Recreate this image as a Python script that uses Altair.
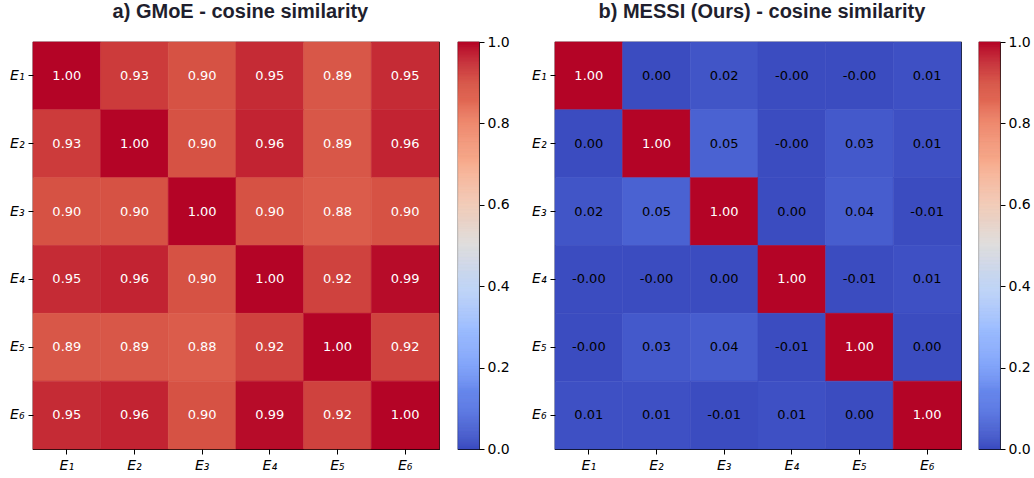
import altair as alt
import pandas as pd
import numpy as np

experts = ["E₁", "E₂", "E₃", "E₄", "E₅", "E₆"]

gmoe = [
    [1.00, 0.93, 0.90, 0.95, 0.89, 0.95],
    [0.93, 1.00, 0.90, 0.96, 0.89, 0.96],
    [0.90, 0.90, 1.00, 0.90, 0.88, 0.90],
    [0.95, 0.96, 0.90, 1.00, 0.92, 0.99],
    [0.89, 0.89, 0.88, 0.92, 1.00, 0.92],
    [0.95, 0.96, 0.90, 0.99, 0.92, 1.00],
]

messi = [
    [1.00, 0.00, 0.02, -0.002, -0.002, 0.01],
    [0.00, 1.00, 0.05, -0.002, 0.03, 0.01],
    [0.02, 0.05, 1.00, 0.00, 0.04, -0.01],
    [-0.002, -0.002, 0.00, 1.00, -0.01, 0.01],
    [-0.002, 0.03, 0.04, -0.01, 1.00, 0.00],
    [0.01, 0.01, -0.01, 0.01, 0.00, 1.00],
]

coolwarm = ["#3b4cc0", "#5977e3", "#7b9ff9", "#9ebeff", "#c0d4f5", "#dddcdc",
            "#f2cbb7", "#f7ac8e", "#ee8468", "#d65244", "#b40426"]
stops = [i / 10 for i in range(11)]
cticks = [0.0, 0.2, 0.4, 0.6, 0.8, 1.0]

FONT = "DejaVu Sans"
color_scale = alt.Scale(domain=stops, range=coolwarm, interpolate="rgb", clamp=True)


def to_df(m):
    rows = []
    for i, r in enumerate(m):
        for j, v in enumerate(r):
            rows.append({"row": experts[i], "col": experts[j], "v": v, "label": f"{v:.2f}"})
    return pd.DataFrame(rows)


def heatmap(m):
    df = to_df(m)
    base = alt.Chart(df).encode(
        x=alt.X("col:N", sort=experts, title=None,
                axis=alt.Axis(labelAngle=0, labelFont=FONT, labelFontSize=14,
                              labelFontStyle="italic", labelColor="black",
                              tickColor="black", tickSize=5, domain=False, labelPadding=4)),
        y=alt.Y("row:N", sort=experts, title=None,
                axis=alt.Axis(labelFont=FONT, labelFontSize=14, labelFontStyle="italic",
                              labelColor="black", tickColor="black", tickSize=5,
                              domain=False, labelPadding=4)),
    )
    rect = base.mark_rect(strokeWidth=0.6).encode(
        color=alt.Color("v:Q", scale=color_scale, legend=None),
        stroke=alt.Stroke("v:Q", scale=color_scale, legend=None),
    )
    text = base.mark_text(font=FONT, fontSize=13).encode(
        text="label:N",
        color=alt.condition("datum.v > 0.5", alt.value("white"), alt.value("black")),
    )
    return (rect + text).properties(width=406, height=407)


def colorbar():
    vals = np.linspace(0, 1, 401)
    df = pd.DataFrame({"v": vals[:-1], "v2": vals[1:]})
    return alt.Chart(df).mark_rect(strokeWidth=0.6).encode(
        y=alt.Y("v:Q", scale=alt.Scale(domain=[0, 1], nice=False, zero=False), title=None,
                axis=alt.Axis(orient="right", values=cticks, format=".1f", labelFont=FONT,
                              labelFontSize=14, labelColor="black", tickColor="black",
                              tickSize=5, domain=False, grid=False, labelPadding=3)),
        y2="v2:Q",
        color=alt.Color("v:Q", scale=color_scale, legend=None),
        stroke=alt.Stroke("v:Q", scale=color_scale, legend=None),
    ).properties(width=21, height=407)


def title(t):
    return alt.TitleParams(t, font="Liberation Sans", fontSize=20, fontWeight="bold",
                           color="#1f1f2e", anchor="middle", offset=12, dx=-19)


left = alt.hconcat(heatmap(gmoe), colorbar(), spacing=17,
                   title=title("a) GMoE - cosine similarity"))
right = alt.hconcat(heatmap(messi), colorbar(), spacing=16,
                    title=title("b) MESSI (Ours) - cosine similarity"))

chart = alt.hconcat(left, right, spacing=20).configure_view(
    stroke="black", strokeWidth=1.2
).properties(padding={"left": 8, "top": 2, "right": 0, "bottom": 0}, background="white")

chart.save("out.html", embed_options={"renderer": "svg", "actions": False})
